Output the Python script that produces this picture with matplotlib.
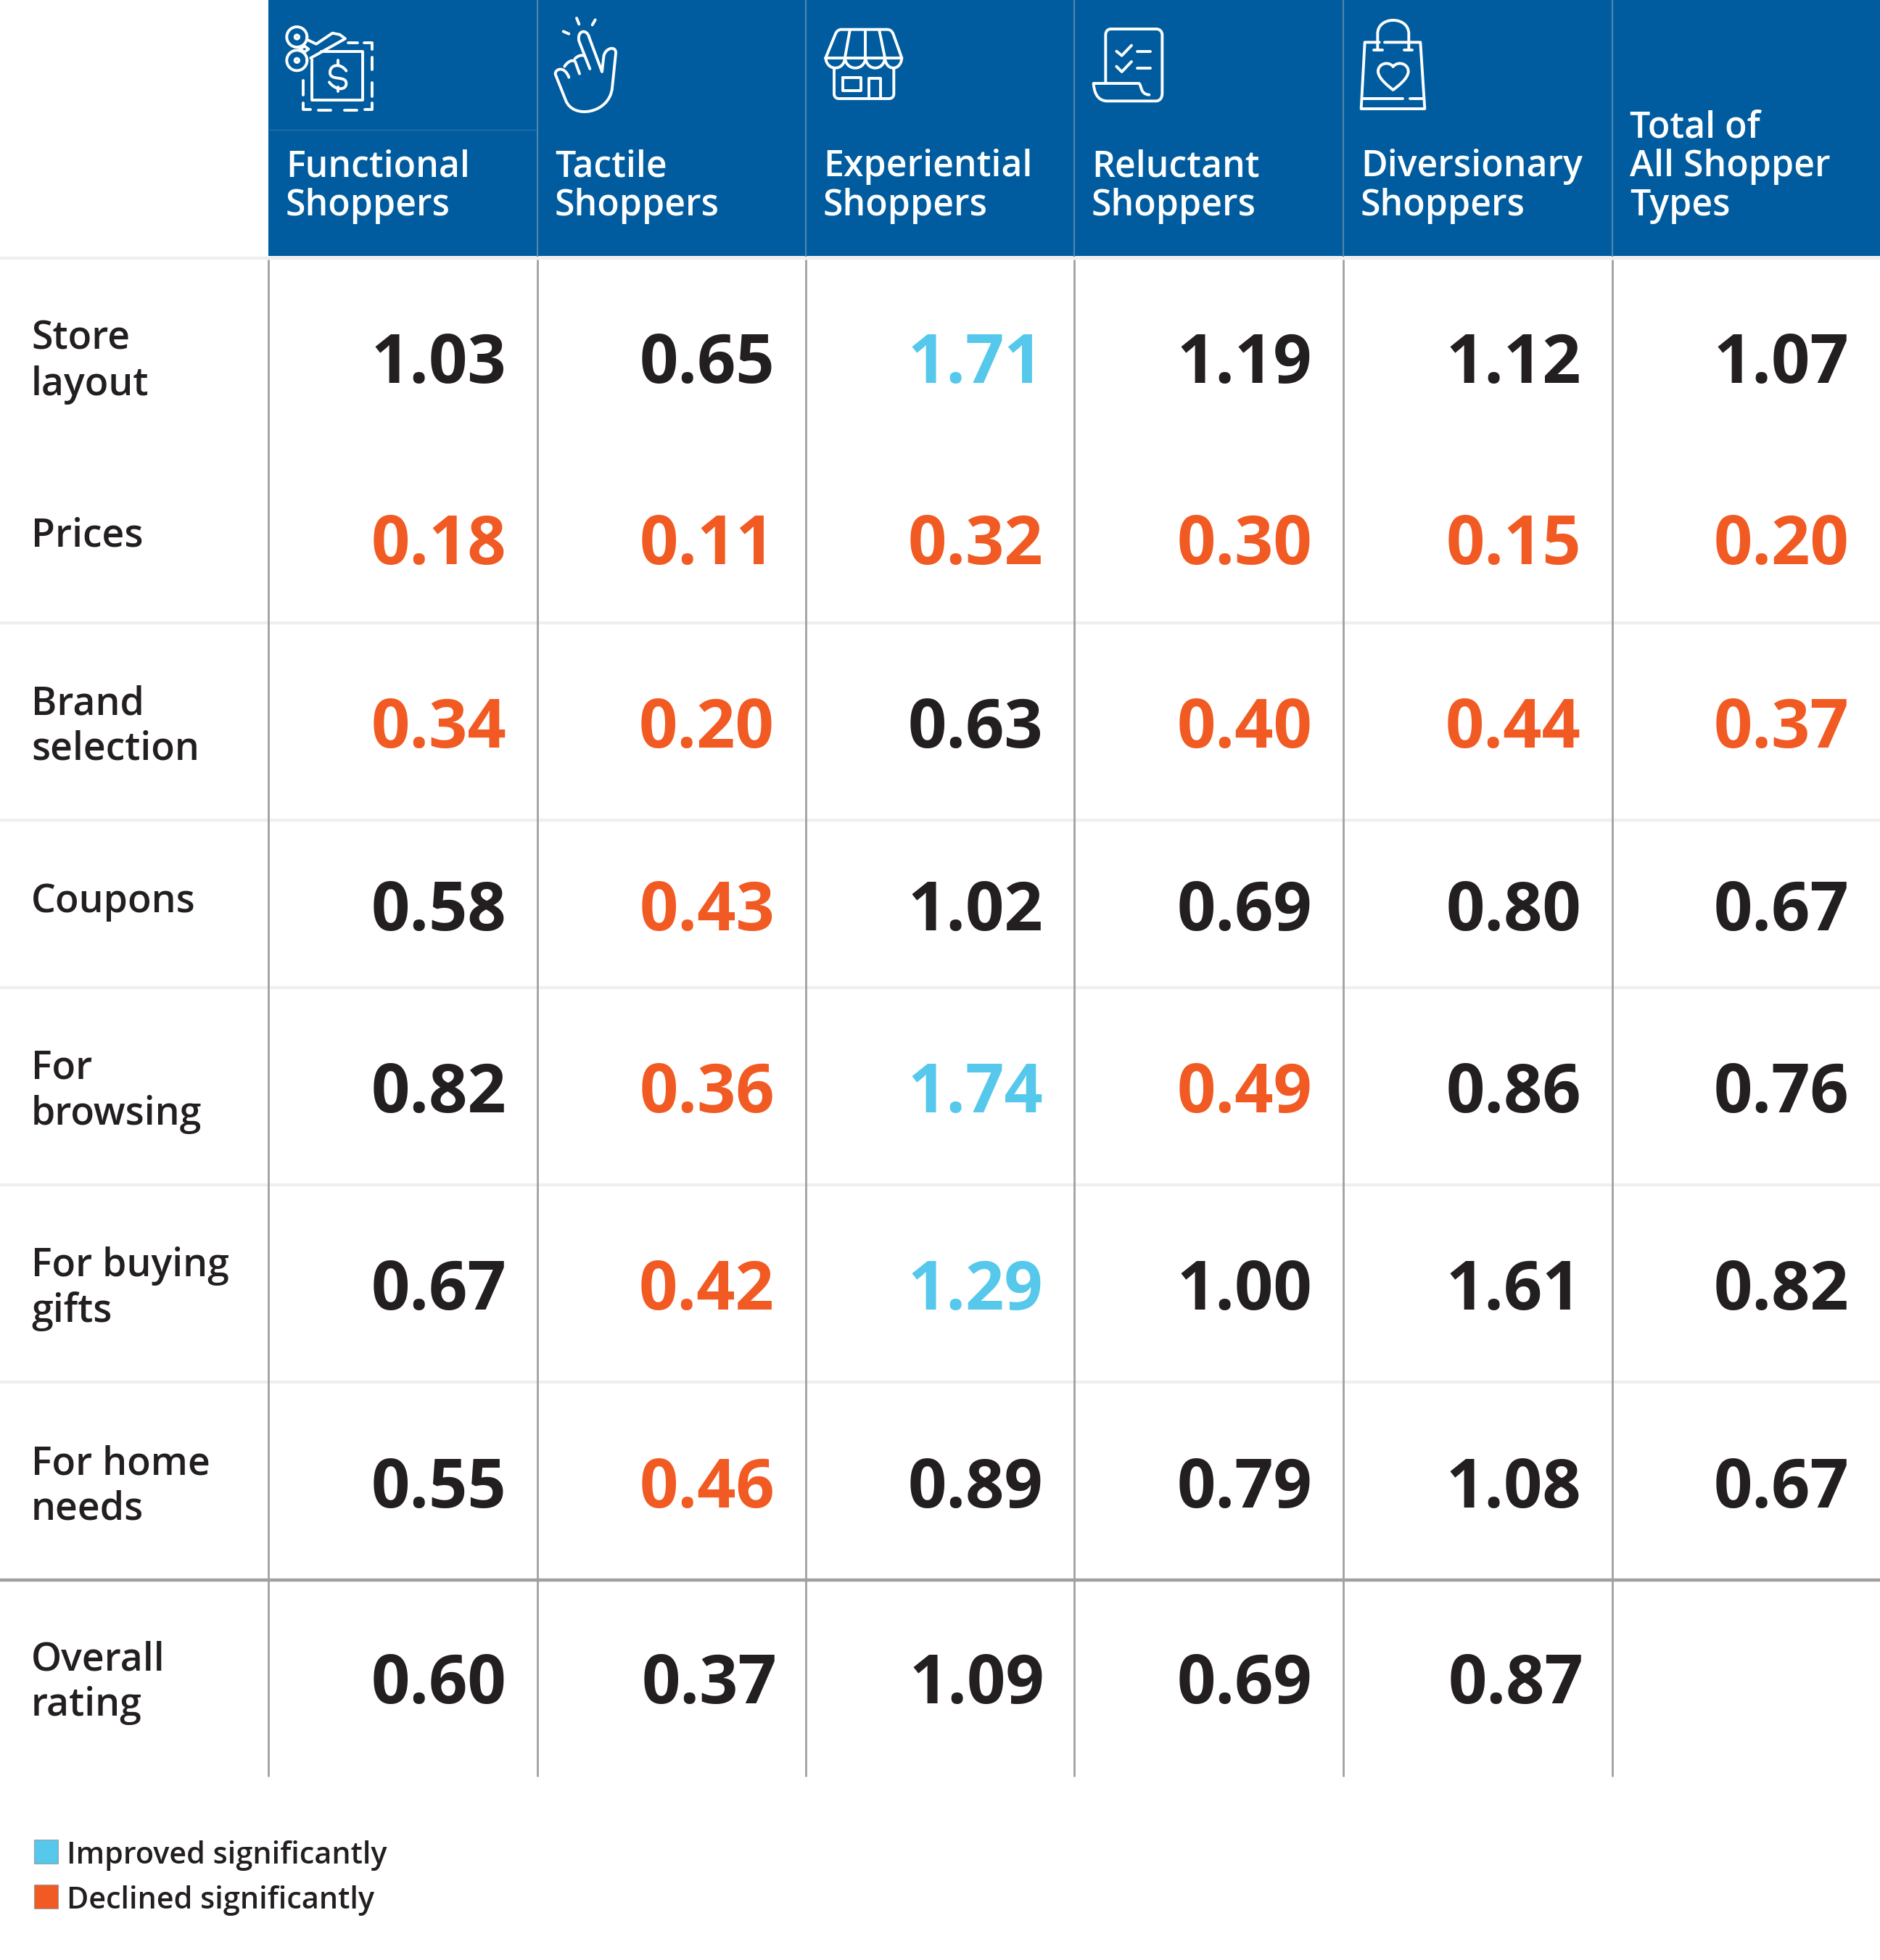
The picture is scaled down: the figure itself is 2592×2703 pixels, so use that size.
import matplotlib
matplotlib.use("Agg")
import matplotlib.pyplot as plt
from matplotlib.path import Path
from matplotlib.patches import PathPatch, Rectangle

plt.rcParams['font.family'] = ['Open Sans', 'DejaVu Sans']

# table contents
row_labels = ["Store\nlayout", "Prices", "Brand\nselection", "Coupons", "For\nbrowsing",
              "For buying\ngifts", "For home\nneeds", "Overall\nrating"]
col_labels = ["Functional\nShoppers", "Tactile\nShoppers", "Experiential\nShoppers",
              "Reluctant\nShoppers", "Diversionary\nShoppers", "Total of\nAll Shopper\nTypes"]

functional = [1.03, 0.18, 0.34, 0.58, 0.82, 0.67, 0.55, 0.60]
tactile = [0.65, 0.11, 0.20, 0.43, 0.36, 0.42, 0.46, 0.37]
experiential = [1.71, 0.32, 0.63, 1.02, 1.74, 1.29, 0.89, 1.09]
reluctant = [1.19, 0.30, 0.40, 0.69, 0.49, 1.00, 0.79, 0.69]
diversionary = [1.12, 0.15, 0.44, 0.80, 0.86, 1.61, 1.08, 0.87]
total = [1.07, 0.20, 0.37, 0.67, 0.76, 0.82, 0.67, None]

# n = no change, u = improved, d = declined
functional_sig = list("nddnnnnn")
tactile_sig = list("nddddddn")
experiential_sig = list("udnnuunn")
reluctant_sig = list("nddndnnn")
diversionary_sig = list("nddnnnnn")
total_sig = list("nddnnnnn")

legend_labels = ["Improved significantly", "Declined significantly"]

columns = [functional, tactile, experiential, reluctant, diversionary, total]
signif = [functional_sig, tactile_sig, experiential_sig, reluctant_sig, diversionary_sig, total_sig]

BLUE = "#005c9e"
INK = "#231f20"
COLORS = {"n": INK, "u": "#55c8eb", "d": "#f15a22"}

W, H = 2592, 2703
DPI = 200
fig = plt.figure(figsize=(W / DPI, H / DPI), dpi=DPI)
ax = fig.add_axes([0, 0, 1, 1])
ax.set_xlim(0, W)
ax.set_ylim(H, 0)
ax.axis("off")

col_x = [370, 741, 1111, 1481, 1852, 2223, 2592]
row_mid = [496, 746, 999, 1251, 1502, 1774, 2047, 2317]
light_rows = [356, 859, 1131, 1362, 1634, 1906]
overall_shift = [0, 3, 2, 0, 3, 0]
HEAD_BOTTOM = 353
RULE_Y = 2179
TABLE_BOTTOM = 2450

# header band
ax.add_patch(Rectangle((col_x[0], 0), W - col_x[0], HEAD_BOTTOM, fc=BLUE, ec="none"))
ax.plot([col_x[0], col_x[1]], [179, 179], color="#2a70a9", lw=0.5)
for x in col_x[1:-1]:
    ax.plot([x, x], [0, HEAD_BOTTOM], color="#4f84ad", lw=0.8)

# grid
for y in light_rows:
    ax.plot([0, W], [y, y], color="#efefef", lw=1.5, solid_capstyle="butt")
for x in col_x[:-1]:
    ax.plot([x, x], [HEAD_BOTTOM + 5, TABLE_BOTTOM], color="#a0a0a0", lw=1.0, solid_capstyle="butt")
ax.plot([0, W], [RULE_Y, RULE_Y], color="#a0a0a0", lw=1.6, solid_capstyle="butt")

# header text
for i, label in enumerate(col_labels):
    lines = label.split("\n")
    for k, line in enumerate(reversed(lines)):
        ax.text(col_x[i] + 24, 297 - k * 54, line, color="white", fontsize=18,
                fontweight="semibold", ha="left", va="baseline")

# row labels
LABEL_SIZE = 19.3
for y, label in zip(row_mid, row_labels):
    lines = label.split("\n")
    if len(lines) == 1:
        ax.text(43, y + 7, lines[0], color=INK, fontsize=LABEL_SIZE, fontweight="semibold", va="baseline")
    else:
        ax.text(43, y - 14, lines[0], color=INK, fontsize=LABEL_SIZE, fontweight="semibold", va="baseline")
        ax.text(43, y + 49, lines[1], color=INK, fontsize=LABEL_SIZE, fontweight="semibold", va="baseline")

# values
for c, (vals, sig) in enumerate(zip(columns, signif)):
    for r, v in enumerate(vals):
        if v is None:
            continue
        shift = overall_shift[c] if r == len(vals) - 1 else 0
        ax.text(col_x[c + 1] - 43 + shift, row_mid[r] + 32, f"{v:.2f}", color=COLORS[sig[r]],
                fontsize=33.6, fontweight="bold", ha="right", va="baseline")

# legend
for y, key, label in zip([2537, 2599], ["u", "d"], legend_labels):
    ax.add_patch(Rectangle((47, y), 33, 33, fc=COLORS[key], ec="#a0a0a0", lw=0.4))
    ax.text(92, y + 33, label, color=INK, fontsize=14.9, fontweight="semibold", va="baseline")


# icons, traced from the header, one stroke at a time
def stroke(ox, oy, pts, codes=None):
    verts = [(ox + px / 3, oy + py / 3) for px, py in pts]
    if codes is None:
        codes = [Path.MOVETO] + [Path.LINETO] * (len(pts) - 1)
    ax.add_patch(PathPatch(Path(verts, codes), fc="none", ec="white", lw=1.4,
                           capstyle="round", joinstyle="round"))


def curve(ox, oy, start, *segments):
    # segments are either a point (line) or three points (bezier)
    pts, codes = [start], [Path.MOVETO]
    for seg in segments:
        if len(seg) == 3:
            pts.extend(seg)
            codes.extend([Path.CURVE4] * 3)
        else:
            pts.append(seg)
            codes.append(Path.LINETO)
    stroke(ox, oy, pts, codes)


def circle(ox, oy, cx, cy, r):
    k = 0.5523 * r
    curve(ox, oy, (cx + r, cy),
          ((cx + r, cy + k), (cx + k, cy + r), (cx, cy + r)),
          ((cx - k, cy + r), (cx - r, cy + k), (cx - r, cy)),
          ((cx - r, cy - k), (cx - k, cy - r), (cx, cy - r)),
          ((cx + k, cy - r), (cx + r, cy - k), (cx + r, cy)))


# coupon
o = (380, 25)
stroke(*o, [(150, 170), (150, 340), (360, 340), (360, 138), (190, 138)])
for seg in [[(300, 102), (338, 102)], [(365, 102), (400, 102), (400, 130)], [(400, 162), (400, 212)],
            [(400, 268), (400, 325)], [(400, 350), (400, 378), (368, 378)], [(285, 380), (335, 380)],
            [(177, 380), (228, 380)], [(113, 350), (113, 378), (145, 378)], [(115, 258), (115, 318)],
            [(258, 175), (258, 195)], [(258, 285), (258, 303)]]:
    stroke(*o, seg)
curve(*o, (292, 218), ((270, 185), (225, 190), (225, 225)), ((225, 262), (292, 235), (292, 270)),
      ((292, 302), (245, 298), (222, 265)))
circle(*o, 88, 78, 42)
circle(*o, 88, 175, 42)
circle(*o, 88, 78, 8)
circle(*o, 88, 175, 8)
stroke(*o, [(128, 88), (168, 107), (235, 62), (265, 68), (288, 85), (145, 165)])
stroke(*o, [(100, 128), (120, 116), (136, 128), (120, 140), (100, 128)])

# finger
o = (750, 15)
stroke(*o, [(135, 30), (145, 55)])
stroke(*o, [(212, 37), (200, 58)])
stroke(*o, [(80, 85), (103, 95)])
curve(*o, (190, 240), (145, 125), ((135, 80), (178, 72), (187, 110)), (240, 252), (247, 190),
      ((250, 155), (298, 140), (297, 175)), (282, 320), ((270, 425), (120, 450), (90, 370)), (47, 262),
      ((45, 240), (85, 225), (103, 275)))
curve(*o, (85, 230), ((100, 205), (125, 200), (130, 212)), (147, 260))
curve(*o, (128, 198), ((140, 185), (155, 182), (163, 185)))

# storefront
o = (1125, 30)
curve(*o, (40, 150), (80, 52), ((85, 38), (95, 32), (105, 32)), (295, 32), ((305, 32), (315, 38), (320, 52)),
      (355, 150), (40, 150))
stroke(*o, [(140, 36), (120, 148)])
stroke(*o, [(205, 36), (205, 148)])
stroke(*o, [(262, 36), (285, 148)])
for a, b in [(40, 120), (120, 205), (205, 285), (285, 355)]:
    curve(*o, (a, 150), ((a + 5, 205), (b - 5, 205), (b, 150)))
curve(*o, (75, 195), (75, 298), ((75, 312), (85, 318), (95, 318)), (302, 318), ((315, 318), (322, 310), (322, 298)),
      (322, 195))
stroke(*o, [(112, 232), (185, 232), (185, 285), (112, 285), (112, 232)])
stroke(*o, [(218, 318), (218, 235), (268, 235), (268, 318)])

# checklist
o = (1495, 30)
curve(*o, (88, 250), (88, 55), ((88, 38), (98, 30), (110, 30)), (298, 30), ((312, 30), (322, 40), (322, 55)),
      (322, 295), ((322, 318), (310, 328), (295, 328)), (95, 328), ((50, 328), (40, 285), (38, 255)), (225, 255),
      ((238, 258), (228, 300), (268, 302)))
stroke(*o, [(133, 122), (155, 140), (195, 98)])
stroke(*o, [(133, 185), (155, 207), (195, 165)])
stroke(*o, [(218, 123), (272, 123)])
stroke(*o, [(218, 192), (272, 192)])

# bag
o = (1865, 20)
stroke(*o, [(110, 115), (50, 115), (35, 390), (298, 390), (280, 115), (132, 115)])
curve(*o, (103, 145), (103, 80), ((103, 5), (232, 5), (232, 80)), (232, 145))
stroke(*o, [(87, 148), (123, 148)])
stroke(*o, [(212, 148), (246, 148)])
stroke(*o, [(42, 347), (206, 347)])
stroke(*o, [(236, 347), (290, 347)])
curve(*o, (167, 215), ((145, 190), (105, 205), (105, 235)), ((105, 265), (150, 298), (167, 312)),
      ((185, 298), (230, 265), (230, 235)), ((230, 205), (190, 190), (167, 215)))

fig.savefig("out.png", dpi=DPI, facecolor="white")
